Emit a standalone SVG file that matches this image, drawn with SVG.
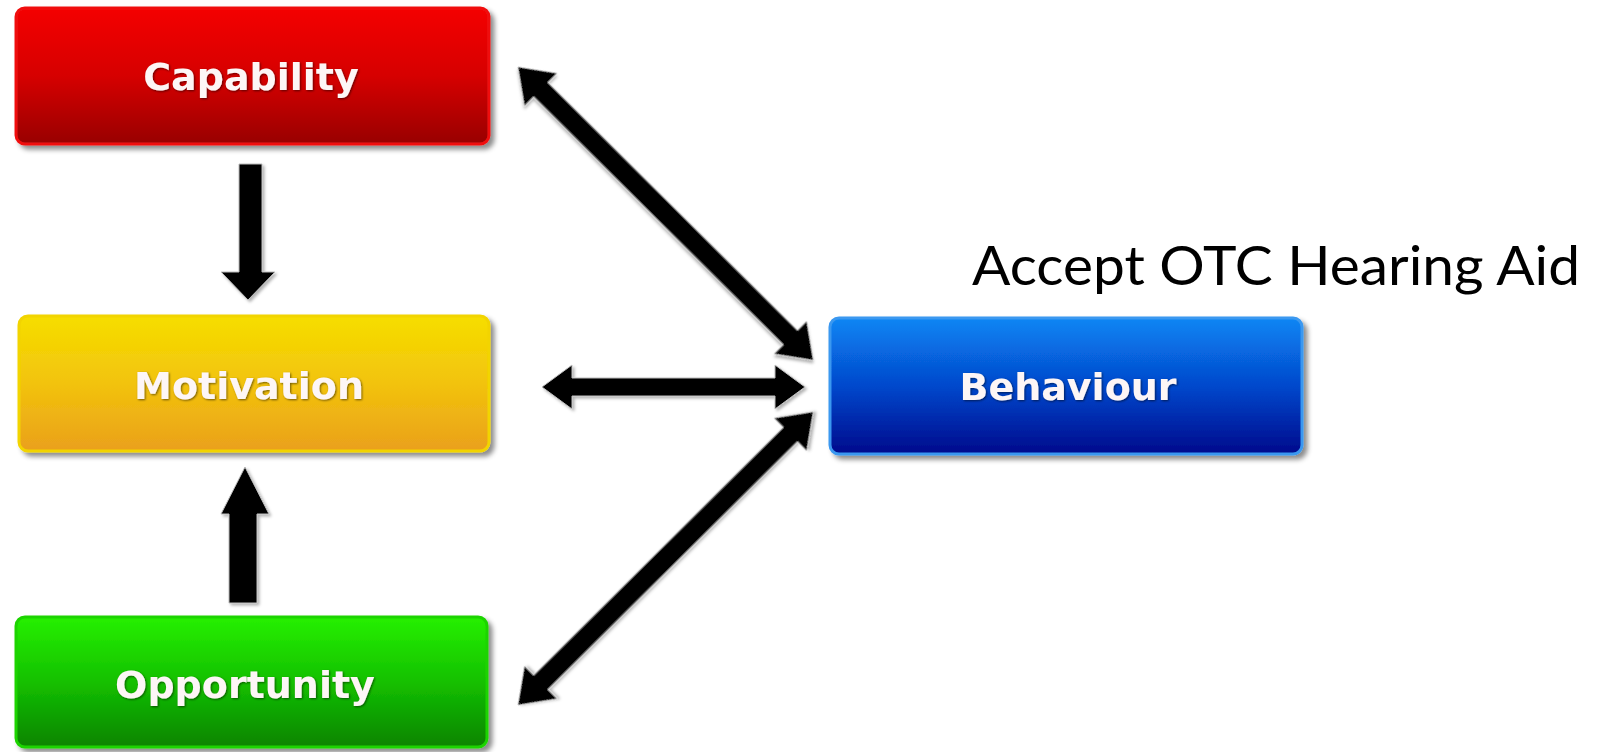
<svg xmlns="http://www.w3.org/2000/svg" width="1611" height="752" viewBox="0 0 1611 752">
  <defs>
    <linearGradient id="gRed" x1="0" y1="0" x2="0" y2="1">
      <stop offset="0" stop-color="#f40000"/>
      <stop offset="0.5" stop-color="#d60000"/>
      <stop offset="1" stop-color="#980000"/>
    </linearGradient>
    <linearGradient id="gYellow" x1="0" y1="0" x2="0" y2="1">
      <stop offset="0" stop-color="#f6de00"/>
      <stop offset="0.5" stop-color="#f2c30c"/>
      <stop offset="1" stop-color="#eaa01c"/>
    </linearGradient>
    <linearGradient id="gGreen" x1="0" y1="0" x2="0" y2="1">
      <stop offset="0" stop-color="#26f000"/>
      <stop offset="0.5" stop-color="#14c000"/>
      <stop offset="1" stop-color="#078400"/>
    </linearGradient>
    <linearGradient id="gBlue" x1="0" y1="0" x2="0" y2="1">
      <stop offset="0" stop-color="#0a86f4"/>
      <stop offset="0.5" stop-color="#0448cc"/>
      <stop offset="1" stop-color="#000a8c"/>
    </linearGradient>
    <filter id="boxShadow" x="-5%" y="-10%" width="115%" height="130%">
      <feDropShadow dx="4" dy="4" stdDeviation="2.5" flood-color="#000" flood-opacity="0.45"/>
    </filter>
    <filter id="arrowShadow" x="-10%" y="-10%" width="120%" height="120%">
      <feDropShadow dx="2" dy="2" stdDeviation="1.5" flood-color="#000" flood-opacity="0.3"/>
    </filter>
    <filter id="textShadow" x="-5%" y="-20%" width="110%" height="140%">
      <feDropShadow dx="1" dy="1" stdDeviation="0.8" flood-color="#000" flood-opacity="0.55"/>
    </filter>
  </defs>
  <style>
    .box { stroke-width: 3; filter: url(#boxShadow); }
    .label { font-family: "DejaVu Sans", Verdana, sans-serif; font-weight: bold; font-size: 38px; fill: #fdf6f6; text-anchor: middle; filter: url(#textShadow); }
    .arrow { fill: #000; stroke: #bdbdbd; stroke-width: 1; stroke-linejoin: miter; filter: url(#arrowShadow); }
    .title { font-family: Lato, "Open Sans", "Liberation Sans", sans-serif; font-size: 54px; fill: #000; }
  </style>

  <rect x="0" y="0" width="1611" height="752" fill="#fff"/>

  <!-- connectors -->
  <g id="connectors">
    <!-- Capability to Motivation -->
    <polygon class="arrow" points="239,164 262,164 262,272 275,272 248,300 221,272 239,272"/>
    <!-- Opportunity to Motivation -->
    <polygon class="arrow" points="229,603 257,603 257,514 269,514 245,467 221,514 229,514"/>
    <!-- Capability <-> Behaviour -->
    <polygon class="arrow" transform="translate(518,67) rotate(44.8)" points="0,0 32,-23 32,-10 384,-10 384,-23 416,0 384,23 384,10 32,10 32,23"/>
    <!-- Motivation <-> Behaviour -->
    <polygon class="arrow" transform="translate(542,387)" points="0,0 30,-22 30,-9 233,-9 233,-22 263,0 233,22 233,9 30,9 30,22"/>
    <!-- Opportunity <-> Behaviour -->
    <polygon class="arrow" transform="translate(518,705) rotate(-44.8)" points="0,0 32,-23 32,-10 384,-10 384,-23 416,0 384,23 384,10 32,10 32,23"/>
  </g>

  <g id="capability">
    <rect class="box" x="16" y="8" width="473" height="136" rx="9" fill="url(#gRed)" stroke="#f01010"/>
    <text class="label" x="251" y="90">Capability</text>
  </g>

  <g id="motivation">
    <rect class="box" x="19" y="316" width="470" height="135" rx="9" fill="url(#gYellow)" stroke="#f2d400"/>
    <text class="label" x="249" y="399">Motivation</text>
  </g>

  <g id="opportunity">
    <rect class="box" x="16" y="617" width="471" height="130" rx="9" fill="url(#gGreen)" stroke="#1ed400"/>
    <text class="label" x="245" y="698">Opportunity</text>
  </g>

  <g id="behaviour">
    <rect class="box" x="830" y="318" width="472" height="136" rx="9" fill="url(#gBlue)" stroke="#3a98f0"/>
    <text class="label" x="1068" y="400">Behaviour</text>
  </g>

  <g id="behaviour-note">
    <text class="title" x="972" y="285" textLength="608" lengthAdjust="spacingAndGlyphs">Accept OTC Hearing Aid</text>
  </g>
</svg>
